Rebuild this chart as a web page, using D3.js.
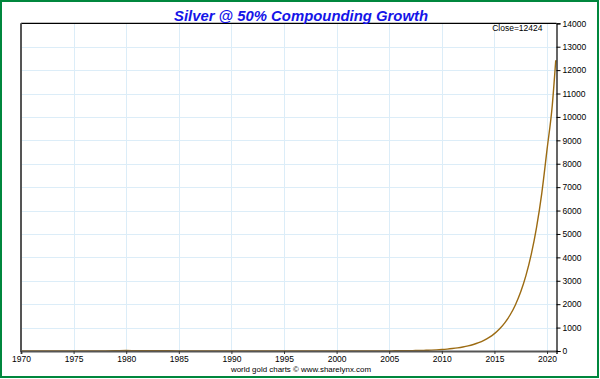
<!DOCTYPE html>
<html>
<head>
<meta charset="utf-8">
<script src="https://cdn.jsdelivr.net/npm/d3@7"></script>
<style>
  html, body { margin: 0; padding: 0; background: #fff; }
  svg { display: block; }
  text { font-family: "Liberation Sans", Arial, sans-serif; }
</style>
</head>
<body>
<script>
// ---- data ----
const years = [1970,1971,1972,1973,1974,1975,1976,1977,1978,1979,1980,1981,1982,1983,1984,1985,1986,1987,1988,1989,
  1990,1991,1992,1993,1994,1995,1996,1997,1998,1999,2000,2001,2002,2003,2004,
  2005,2005.5,2006,2006.5,2007,2007.5,2008,2008.5,2009,2009.5,2010,2010.5,2011,2011.5,2012,2012.5,
  2013,2013.5,2014,2014.5,2015,2015.5,2016,2016.5,2017,2017.5,2018,2018.5,2019,2019.5,2020,2020.5,2020.83];
const prices = [1.8,1.6,1.7,2.6,4.7,4.4,4.4,4.6,5.4,11.1,20.6,10.5,8.0,11.4,8.1,6.1,5.5,7.0,6.5,5.5,
  4.8,4.0,3.9,4.3,5.3,5.2,5.2,4.9,5.5,5.2,5.0,4.4,4.6,4.9,6.7,
  6.5,7.5,9.1,11.6,14.8,19,24,31,39,50,64,82,105,134,171,218,
  279,356,455,581,743,949,1213,1549,1979,2528,3231,4127,5273,6736,8604,10500,12424];
const xTicks = [1970,1975,1980,1985,1990,1995,2000,2005,2010,2015,2020];
const yTicks = [0,1000,2000,3000,4000,5000,6000,7000,8000,9000,10000,11000,12000,13000,14000];
const titleText = "Silver @ 50% Compounding Growth";
const closeText = "Close=12424";
const footerText = "world gold charts \u00A9 www.sharelynx.com";

const W = 600, H = 379;
const L = 21, R = 556.5, T = 23.3, B = 351;

const svg = d3.select("body").append("svg").attr("width", W).attr("height", H);

// outer green border
svg.append("rect").attr("x", 1).attr("y", 1).attr("width", 597).attr("height", 376)
  .attr("fill", "#fff").attr("stroke", "#00873d").attr("stroke-width", 2);

const x = d3.scaleLinear().domain([1970, 2020.9]).range([L, R]);
const y = d3.scaleLinear().domain([0, 14000]).range([B, T]);

// grid
const grid = svg.append("g").attr("stroke", "#dcedf8").attr("stroke-width", 1);
grid.selectAll("line.v").data(xTicks.slice(1)).join("line")
  .attr("x1", d => Math.round(x(d)) + 0.5).attr("x2", d => Math.round(x(d)) + 0.5)
  .attr("y1", T).attr("y2", B);
grid.selectAll("line.h").data(yTicks.slice(1, -1)).join("line")
  .attr("x1", L).attr("x2", R)
  .attr("y1", d => Math.round(y(d)) + 0.5).attr("y2", d => Math.round(y(d)) + 0.5);

// line
const pts = years.map((yr, i) => [yr, prices[i]]);
svg.append("path").datum(pts)
  .attr("fill", "none").attr("stroke", "#9c6b12").attr("stroke-width", 1.4)
  .attr("d", d3.line().x(d => x(d[0])).y(d => y(d[1])).curve(d3.curveMonotoneX));

// frame: top black, left/bottom grey
svg.append("line").attr("x1", L).attr("x2", R).attr("y1", T).attr("y2", T)
  .attr("stroke", "#000").attr("stroke-width", 1.2);
svg.append("line").attr("x1", L).attr("x2", L).attr("y1", T).attr("y2", B + 1)
  .attr("stroke", "#555").attr("stroke-width", 2);

// bottom axis
const xAxis = d3.axisBottom(x).tickValues(xTicks).tickFormat(d3.format("d")).tickSize(3).tickPadding(2);
const gx = svg.append("g").attr("transform", `translate(0,${B})`).call(xAxis);
gx.select(".domain").attr("stroke", "#555").attr("stroke-width", 2);
gx.selectAll(".tick line").attr("stroke", "#333");
gx.selectAll(".tick text").attr("font-size", 8.5).attr("fill", "#000")
  .attr("font-family", "'Liberation Sans', Arial, sans-serif");

// right axis
const yAxis = d3.axisRight(y).tickValues(yTicks).tickFormat(d3.format("d")).tickSize(4).tickPadding(2);
const gy = svg.append("g").attr("transform", `translate(${R},0)`).call(yAxis);
gy.select(".domain").attr("stroke", "#000").attr("stroke-width", 1.2);
gy.selectAll(".tick line").attr("stroke", "#000");
gy.selectAll(".tick text").attr("font-size", 8.5).attr("fill", "#000")
  .attr("font-family", "'Liberation Sans', Arial, sans-serif");

// title
svg.append("text").attr("x", 301).attr("y", 20.5).attr("text-anchor", "middle")
  .attr("font-size", 14.5).attr("font-weight", "bold").attr("font-style", "italic")
  .attr("fill", "#1515e8").attr("textLength", 254).attr("lengthAdjust", "spacingAndGlyphs")
  .text(titleText);

// close label
svg.append("text").attr("x", 542.5).attr("y", 31).attr("text-anchor", "end")
  .attr("font-size", 8.5).attr("fill", "#000").text(closeText);

// footer
svg.append("text").attr("x", 301).attr("y", 371.5).attr("text-anchor", "middle")
  .attr("font-size", 8).attr("fill", "#000").attr("textLength", 140).attr("lengthAdjust", "spacingAndGlyphs")
  .text(footerText);
</script>
</body>
</html>
